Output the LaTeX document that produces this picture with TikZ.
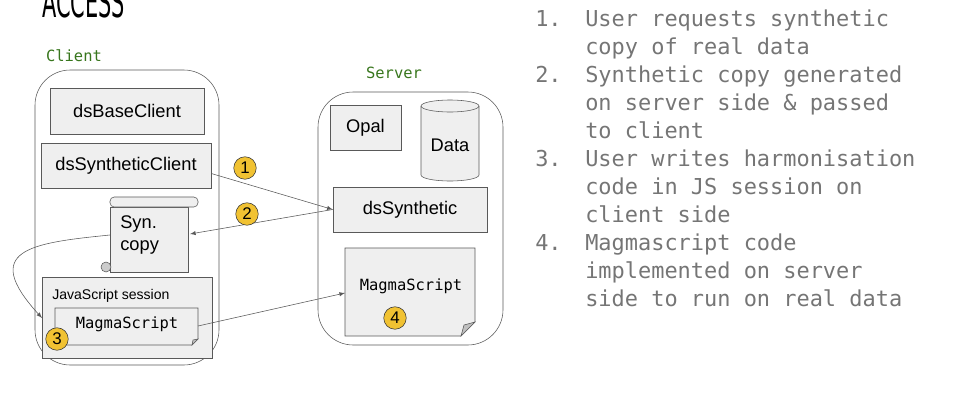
\documentclass[tikz,border=0pt]{standalone}
\usepackage{fontspec}
\setmainfont{Liberation Sans}
\newfontfamily\codefont{DejaVu Sans Mono}
\newfontfamily\titlefont{DejaVu Sans Condensed}
\usetikzlibrary{positioning}
\definecolor{boxfill}{HTML}{EFEFEF}
\definecolor{boxline}{HTML}{595959}
\definecolor{stepfill}{HTML}{F1C232}
\definecolor{labgreen}{HTML}{38761D}
\definecolor{listgray}{HTML}{757575}
\tikzset{
  box/.style={draw=boxline, fill=boxfill, font=\fontsize{13}{15}\selectfont, inner sep=0pt},
  stepmark/.style={circle, draw=black!80, fill=stepfill, minimum size=16pt, inner sep=0pt, font=\fontsize{12}{14}\selectfont},
  side/.style={font=\codefont\fontsize{11}{13}\selectfont, text=labgreen},
  flow/.style={draw=boxline, -latex, thin},
  item/.style={font=\codefont\fontsize{15.6}{20}\selectfont, text=listgray, anchor=base west, inner sep=0pt}
}
\begin{document}
\begin{tikzpicture}[x=0.025cm, y=-0.025cm]
    \useasboundingbox (0,0) rectangle (960,409);
    % Title (cut at the top)
    \node[font=\titlefont\fontsize{30}{30}\selectfont, anchor=base west, inner sep=0pt, xscale=0.55] (title) at (42,17) {ACCESS};

    % Client
    \node[side] (clientlab) at (74,56) {Client};
    \draw[boxline, rounded corners=25pt] (35,70) rectangle (219,365);
    \node[box, minimum width=3.85cm, minimum height=1.15cm] (base) at (127,111) {dsBaseClient};
    \node[box, minimum width=4.25cm, minimum height=1.125cm] (synclient) at (126,165.5) {dsSyntheticClient};

    % Syn. copy scroll
    \draw[boxline, fill=boxfill] (110,207) -- (110,272) -- (188,272) -- (188,207) -- cycle;
    \draw[boxline, fill=boxfill, rounded corners=3pt] (110,197) rectangle (198,207);
    \draw[boxline, fill=gray!40] (106,267) circle (5);
    \node[font=\fontsize{13}{16}\selectfont, align=left, anchor=north west, inner sep=0pt] (syncopy) at (120,215) {Syn.\\copy};
    \coordinate (syncopyL) at (110,235);
    \coordinate (syncopyR) at (190,234);

    % JavaScript session
    \node[box, minimum width=4.25cm, minimum height=2.025cm] (jssession) at (127,317.5) {};
    \node[font=\fontsize{10}{12}\selectfont, anchor=west, inner sep=0pt] (jslab) at (52,296) {JavaScript session};
    \draw[boxline, fill=boxfill] (55,308) -- (198,308) -- (198,339) -- (192,345) -- (55,345) -- cycle;
    \draw[boxline, fill=gray!50] (192,345) -- (193,340) -- (198,339) -- cycle;
    \node[font=\codefont\fontsize{11}{13}\selectfont] (clientscript) at (127,324) {MagmaScript};
    \coordinate (clientscriptR) at (198,326);
    \coordinate (jsL) at (42,318);
    \node[stepmark] (s3) at (57,339) {3};

    % Server
    \node[side] (serverlab) at (394,73) {Server};
    \draw[boxline, rounded corners=25pt] (318,92) rectangle (503,345);
    \node[box, minimum width=1.775cm, minimum height=1.125cm] (opal) at (365.5,127.5) {Opal};
    % Data cylinder
    \draw[boxline, fill=boxfill] (421,106) -- (421,175) arc[start angle=180, end angle=0, x radius=29, y radius=6] -- (479,106) arc[start angle=0, end angle=-180, x radius=29, y radius=6] -- cycle;
    \draw[boxline] (421,106) arc[start angle=180, end angle=0, x radius=29, y radius=6];
    \node[font=\fontsize{13}{15}\selectfont] (data) at (450,145) {Data};
    \node[box, minimum width=3.85cm, minimum height=1.125cm] (synserver) at (410,209.5) {dsSynthetic};
    % MagmaScript on server
    \draw[boxline, fill=boxfill] (345,248) -- (475,248) -- (475,322) -- (461,336) -- (345,336) -- cycle;
    \draw[boxline, fill=gray!50] (461,336) -- (464,325) -- (475,322) -- cycle;
    \node[font=\codefont\fontsize{11}{13}\selectfont] (serverscript) at (411,286) {MagmaScript};
    \coordinate (serverscriptL) at (345,293);
    \node[stepmark] (s4) at (395,318) {4};

    % Connectors
    \draw[flow] (synclient.east) ++(0,8) -- (synserver.west);
    \draw[flow] (synserver.west) -- (syncopyR);
    \draw[flow] (syncopyL) .. controls (30,243) and (-20,250) .. (jsL);
    \draw[flow] (clientscriptR) -- (serverscriptL);
    \node[stepmark] (s1) at (245,168) {1};
    \node[stepmark] (s2) at (247,214) {2};

    % Steps list
    \foreach \n/\y/\t in {1/26/User requests synthetic, 0/54/copy of real data,
                         2/82/Synthetic copy generated, 0/110/on server side \& passed, 0/138/to client,
                         3/166/User writes harmonisation, 0/194/code in JS session on, 0/222/client side,
                         4/250/Magmascript code, 0/278/implemented on server, 0/306/side to run on real data}{
      \ifnum\n>0 \node[item] (num\n) at (535,\y) {\n.};\fi
      \node[item] (line\y) at (585,\y) {\t};
    }
\end{tikzpicture}
\end{document}
